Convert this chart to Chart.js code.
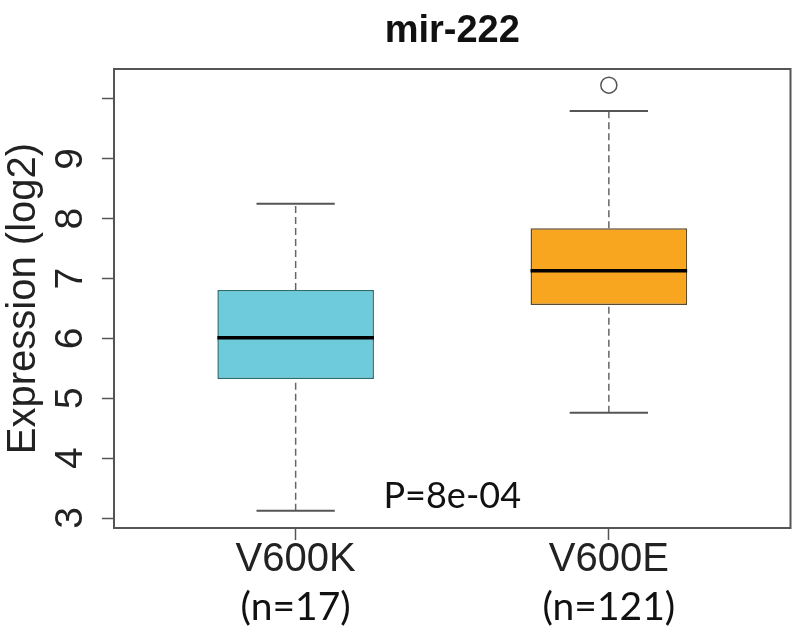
<!DOCTYPE html>
<html>
<head>
<meta charset="utf-8">
<script src="https://cdn.jsdelivr.net/npm/chart.js@4.4.1/dist/chart.umd.min.js"></script>
<style>
  body { margin: 0; background: #fff; }
  #wrap { width: 800px; height: 631px; }
</style>
</head>
<body>
<div id="wrap"><canvas id="boxChart"></canvas></div>
<script>
// Box plot summary values
const titleText = "mir-222";
const groups = ["V600K", "V600E"];
const groupN = ["(n=17)", "(n=121)"];
const groupPos = [1, 2];
const whiskerLow = [3.12, 4.76];
const q1 = [5.32, 6.56];
const median = [6.01, 7.13];
const q3 = [6.81, 7.84];
const whiskerHigh = [8.25, 9.80];
const outliers = [[], [10.23]];
const yTicks = [3, 4, 5, 6, 7, 8, 9, 10];
const pLabel = "P=8e-04";
const pPos = [1.5, 3.17];

const boxColors = ["#6dcbdb", "#f8a51f"];
const boxBorders = ["#23706f", "#5c4a2c"];
const mainFont = "'Liberation Sans', Arial, sans-serif";

Chart.defaults.font.family = mainFont;

// helper for the whisker / cap / median segments
function segment(points, color, width, dash, order) {
  return {
    type: "line",
    data: points,
    borderColor: color,
    borderWidth: width,
    borderDash: dash,
    pointRadius: 0,
    fill: false,
    tension: 0,
    order: order
  };
}

const datasets = [];

// boxes (q1..q3) as floating bars
datasets.push({
  type: "bar",
  data: groupPos.map((x, i) => ({ x: x, y: [q1[i], q3[i]] })),
  backgroundColor: boxColors,
  borderColor: boxBorders,
  borderWidth: 1.5,
  borderSkipped: false,
  barPercentage: 0.5,
  categoryPercentage: 1,
  order: 3
});

groupPos.forEach((x, i) => {
  // dashed whiskers
  datasets.push(segment([{ x: x, y: q3[i] }, { x: x, y: whiskerHigh[i] }], "#666", 1.5, [7, 4], 4));
  datasets.push(segment([{ x: x, y: whiskerLow[i] }, { x: x, y: q1[i] }], "#666", 1.5, [7, 4], 4));
  // caps
  datasets.push(segment([{ x: x - 0.125, y: whiskerHigh[i] }, { x: x + 0.125, y: whiskerHigh[i] }], "#555", 2, [], 2));
  datasets.push(segment([{ x: x - 0.125, y: whiskerLow[i] }, { x: x + 0.125, y: whiskerLow[i] }], "#555", 2, [], 2));
  // median
  datasets.push(segment([{ x: x - 0.25, y: median[i] }, { x: x + 0.25, y: median[i] }], "#000", 3.5, [], 1));
});

// outliers
datasets.push({
  type: "scatter",
  data: outliers.flatMap((vals, i) => vals.map(v => ({ x: groupPos[i], y: v }))),
  pointRadius: 8,
  pointBorderColor: "#555",
  pointBackgroundColor: "rgba(0,0,0,0)",
  pointBorderWidth: 1.5,
  order: 0
});

// frame, title, group sizes and p value
const annotate = {
  id: "annotate",
  afterDraw(chart) {
    const { ctx, chartArea, scales } = chart;
    ctx.save();
    ctx.strokeStyle = "#555";
    ctx.lineWidth = 2;
    ctx.strokeRect(chartArea.left, chartArea.top, chartArea.right - chartArea.left, chartArea.bottom - chartArea.top);

    ctx.fillStyle = "#111";
    ctx.textAlign = "center";
    ctx.textBaseline = "alphabetic";
    ctx.font = "bold 38px " + mainFont;
    ctx.fillText(titleText, (chartArea.left + chartArea.right) / 2, 42);

    ctx.font = "39px Lato, sans-serif";
    groupPos.forEach((x, i) => {
      ctx.fillText(groupN[i], scales.x.getPixelForValue(x), 620);
    });

    ctx.font = "36px Lato, sans-serif";
    ctx.fillText(pLabel, scales.x.getPixelForValue(pPos[0]), scales.y.getPixelForValue(pPos[1]));
    ctx.restore();
  }
};

new Chart(document.getElementById("boxChart"), {
  type: "bar",
  data: { datasets: datasets },
  plugins: [annotate],
  options: {
    responsive: true,
    maintainAspectRatio: false,
    animation: false,
    layout: { padding: { top: 69, right: 6, left: 0, bottom: 0 } },
    plugins: {
      legend: { display: false },
      tooltip: { enabled: false }
    },
    scales: {
      x: {
        type: "linear",
        min: 0.42,
        max: 2.58,
        offset: false,
        afterBuildTicks: (s) => { s.ticks = groupPos.map(v => ({ value: v })); },
        afterFit: (s) => { s.height = 103; },
        ticks: {
          callback: (v) => groups[groupPos.indexOf(v)],
          font: { size: 40, lineHeight: 1 },
          color: "#222",
          padding: 0,
          maxRotation: 0,
          autoSkip: false
        },
        grid: { offset: false, drawOnChartArea: false, tickLength: 12, tickColor: "#555", tickWidth: 1.5 },
        border: { display: false }
      },
      y: {
        min: 2.833,
        max: 10.5,
        afterBuildTicks: (s) => { s.ticks = yTicks.map(v => ({ value: v })); },
        afterFit: (s) => { s.width = 114; },
        ticks: {
          callback: (v) => (v === 10 ? "" : String(v)),
          font: { size: 39 },
          color: "#222",
          minRotation: 90,
          maxRotation: 90,
          crossAlign: "center",
          padding: 20,
          autoSkip: false
        },
        title: {
          display: true,
          text: "Expression (log2)",
          font: { size: 40 },
          color: "#222",
          padding: { top: 0, bottom: 0 }
        },
        grid: { drawOnChartArea: false, tickLength: 12, tickColor: "#555", tickWidth: 1.5 },
        border: { display: false }
      }
    }
  }
});
</script>
</body>
</html>
